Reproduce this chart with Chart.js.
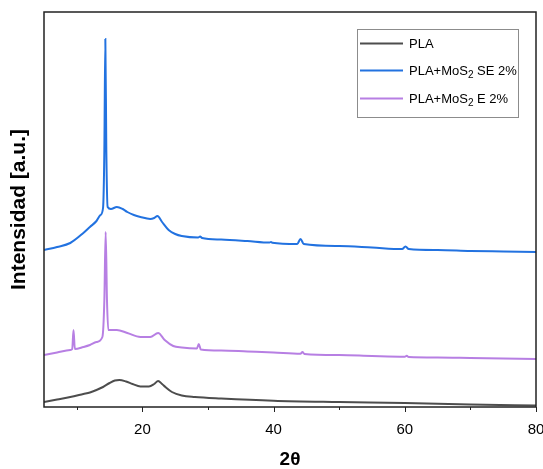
<!DOCTYPE html>
<html>
<head>
<meta charset="utf-8">
<script src="https://cdn.jsdelivr.net/npm/chart.js@4.4.1/dist/chart.umd.min.js"></script>
<style>
  html, body { margin: 0; padding: 0; background: #fff; }
  #wrap { width: 543px; height: 469px; }
</style>
</head>
<body>
<div id="wrap"><canvas id="xrd" width="543" height="469"></canvas></div>
<script>
// 2theta positions and intensities (a.u.)
const plaX = [5, 7, 9, 11, 12, 13, 14, 15, 15.8, 16.5, 17.5, 18.5, 19.7, 21, 21.8, 22.4, 23, 23.5, 24.5, 26, 28, 32, 40, 50, 60, 70, 80];
const plaY = [5, 7.5, 10, 13, 14.5, 17, 20, 24, 26.5, 27, 25.5, 23, 20.5, 20.5, 23, 26, 23, 20, 15, 11.5, 10, 8.5, 6.3, 5, 4, 2.5, 1.5];

const seX = [5, 7, 9, 11, 12, 13, 13.6, 14.0, 14.2, 14.35, 14.5, 14.7, 15.2, 16.1, 17, 17.7, 18.7, 19.7, 21.2, 21.8, 22.3, 23, 24, 25, 26,
  28.5, 28.8, 29.1, 32, 36, 39.4, 39.6, 39.8, 43.6, 44.1, 44.6, 50, 55, 59.6, 60.1, 60.6, 65, 70, 75, 80];
const seY = [157, 160, 164, 174, 180, 186, 192, 199, 257, 368, 257, 200, 198, 200, 198, 195, 192, 190, 188, 189, 191, 185, 177, 173, 171,
  169.5, 170.5, 169, 167.5, 166, 164.5, 165, 164.3, 163, 168, 163, 161, 159.5, 158, 160.5, 158, 157, 156, 155.5, 155];

const eX = [5, 7, 9, 9.3, 9.5, 9.7, 11, 12, 13, 13.9, 14.2, 14.4, 14.6, 14.8, 16.1, 17.7, 19.7, 21.2, 22.4, 23.4, 24.7, 26,
  28.3, 28.6, 28.9, 32, 36, 40, 44.1, 44.4, 44.7, 50, 55, 60, 60.3, 60.6, 65, 70, 75, 80];
const eY = [52, 54.5, 57, 58, 77, 58, 60, 62, 65, 70, 107, 175, 107, 77, 77, 74, 70, 70, 74, 67, 61, 59.5,
  58.5, 63, 57.5, 56.5, 55.5, 54.5, 53.3, 55, 53, 52, 51, 50.3, 51.2, 50, 49.5, 49, 48.5, 48];

const seriesLabels = ['PLA', 'PLA+MoS_2 SE 2%', 'PLA+MoS_2 E 2%'];
const seriesColors = ['#4d4d4d', '#2272e0', '#b77fe3'];
const majorTicks = [20, 40, 60, 80];
const minorTicks = [10, 30, 50, 70];

function pairs(xs, ys) {
  return xs.map((x, i) => ({ x: x, y: ys[i] }));
}

const FONT = '"Liberation Sans", Arial, sans-serif';

// frame around plot area plus outward ticks on the bottom axis
const framePlugin = {
  id: 'frame',
  afterDraw(chart) {
    const { ctx, chartArea: a } = chart;
    const xs = chart.scales.x;
    ctx.save();
    ctx.strokeStyle = '#222';
    ctx.lineWidth = 1.5;
    ctx.strokeRect(a.left, a.top, a.right - a.left, a.bottom - a.top);
    ctx.beginPath();
    majorTicks.forEach(v => {
      const px = Math.round(xs.getPixelForValue(v)) + 0.5;
      ctx.moveTo(px, a.bottom);
      ctx.lineTo(px, a.bottom + 5);
    });
    minorTicks.forEach(v => {
      const px = Math.round(xs.getPixelForValue(v)) + 0.5;
      ctx.moveTo(px, a.bottom);
      ctx.lineTo(px, a.bottom + 3);
    });
    ctx.lineWidth = 1;
    ctx.stroke();
    ctx.restore();
  }
};

// legend box with subscript in MoS2
const legendPlugin = {
  id: 'boxLegend',
  afterDraw(chart) {
    const { ctx } = chart;
    const bx = 357.5, by = 29.5, bw = 161, bh = 88;
    ctx.save();
    ctx.fillStyle = '#fff';
    ctx.fillRect(bx, by, bw, bh);
    ctx.strokeStyle = '#8c8c8c';
    ctx.lineWidth = 1;
    ctx.strokeRect(bx, by, bw, bh);
    const rows = [43.5, 70.5, 98.5];
    chart.data.datasets.forEach((ds, i) => {
      const y = rows[i];
      ctx.strokeStyle = ds.borderColor;
      ctx.lineWidth = 2;
      ctx.beginPath();
      ctx.moveTo(360, y);
      ctx.lineTo(403, y);
      ctx.stroke();
      const parts = ds.label.split('_');
      let x = 409;
      ctx.fillStyle = '#000';
      ctx.textBaseline = 'middle';
      ctx.font = '13px ' + FONT;
      ctx.fillText(parts[0], x, y + 1);
      x += ctx.measureText(parts[0]).width;
      if (parts.length > 1) {
        const sub = parts[1].charAt(0);
        const rest = parts[1].slice(1);
        ctx.font = '10px ' + FONT;
        ctx.fillText(sub, x, y + 5);
        x += ctx.measureText(sub).width;
        ctx.font = '13px ' + FONT;
        ctx.fillText(rest, x, y + 1);
      }
    });
    ctx.restore();
  }
};

new Chart(document.getElementById('xrd'), {
  type: 'line',
  data: {
    datasets: [
      { label: seriesLabels[0], data: pairs(plaX, plaY), borderColor: seriesColors[0] },
      { label: seriesLabels[1], data: pairs(seX, seY), borderColor: seriesColors[1] },
      { label: seriesLabels[2], data: pairs(eX, eY), borderColor: seriesColors[2] }
    ]
  },
  options: {
    responsive: false,
    animation: false,
    layout: { padding: { top: 12, right: 7, left: 0, bottom: 0 } },
    elements: {
      point: { radius: 0 },
      line: { borderWidth: 2, cubicInterpolationMode: 'monotone', fill: false }
    },
    plugins: {
      legend: { display: false },
      tooltip: { enabled: false }
    },
    scales: {
      x: {
        type: 'linear',
        min: 5,
        max: 80,
        grid: { display: false, drawTicks: false },
        border: { display: false },
        afterBuildTicks: s => { s.ticks = majorTicks.map(v => ({ value: v })); },
        afterFit: s => { s.height = 62; s.paddingRight = 0; s.paddingLeft = 0; },
        ticks: { padding: 14, color: '#000', font: { family: FONT, size: 15 } },
        title: {
          display: true,
          text: '2θ',
          color: '#000',
          padding: 0,
          font: { family: FONT, size: 19, weight: 'bold', lineHeight: 1 }
        }
      },
      y: {
        min: 0,
        max: 395,
        grid: { display: false, drawTicks: false },
        border: { display: false },
        ticks: { display: false },
        afterFit: s => { s.width = 44; },
        title: {
          display: true,
          text: 'Intensidad [a.u.]',
          color: '#000',
          padding: { top: 7, bottom: 0 },
          font: { family: FONT, size: 21, weight: 'bold' }
        }
      }
    }
  },
  plugins: [framePlugin, legendPlugin]
});
</script>
</body>
</html>
